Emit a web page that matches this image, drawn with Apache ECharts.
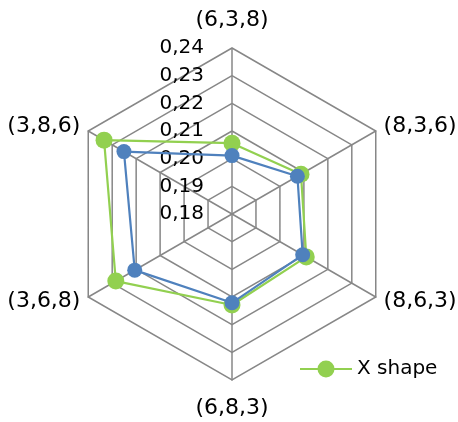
<!DOCTYPE html>
<html>
<head>
<meta charset="utf-8">
<script src="https://cdn.jsdelivr.net/npm/echarts@6/dist/echarts.min.js"></script>
<style>
html, body { margin: 0; padding: 0; background: #fff; }
#chart { width: 458px; height: 422px; }
</style>
</head>
<body>
<div id="chart"></div>
<script>
// Categories in the reference's clockwise order, starting at the top
const categories = ['(6,3,8)', '(8,3,6)', '(8,6,3)', '(6,8,3)', '(3,6,8)', '(3,8,6)'];
const xShapeValues = [0.2056, 0.2088, 0.2110, 0.2129, 0.2285, 0.2334];
const secondValues = [0.2011, 0.2073, 0.2095, 0.2121, 0.2206, 0.2251];
const tickValues = [0.18, 0.19, 0.20, 0.21, 0.22, 0.23, 0.24];
const tickLabels = ['0,18', '0,19', '0,20', '0,21', '0,22', '0,23', '0,24'];
const seriesNames = ['X shape', 'Series 2'];

// ECharts radar runs counter-clockwise; reorder to get a clockwise layout
const order = [0, 5, 4, 3, 2, 1];
const pick = arr => order.map(i => arr[i]);

const FONT = 'DejaVu Sans';
const GRID = '#878787';

function fmt(v) {
  let best = 0;
  for (let i = 1; i < tickValues.length; i++) {
    if (Math.abs(tickValues[i] - v) < Math.abs(tickValues[best] - v)) best = i;
  }
  return tickLabels[best];
}

const indicators = pick(categories).map((name, k) => {
  const ind = { name: name, min: tickValues[0], max: tickValues[tickValues.length - 1] };
  if (k === 0) {
    ind.axisLabel = {
      show: true, formatter: fmt, color: '#000', fontSize: 20,
      fontFamily: FONT, margin: 28
    };
  }
  return ind;
});

const chart = echarts.init(document.getElementById('chart'), null, { renderer: 'canvas' });
chart.setOption({
  animation: false,
  backgroundColor: '#fff',
  textStyle: { fontFamily: FONT },
  legend: {
    left: 300, top: 359, padding: 0,
    itemWidth: 52, itemHeight: 17, itemGap: 10,
    textStyle: { fontSize: 20, color: '#000', fontFamily: FONT },
    data: [{
      name: seriesNames[0],
      icon: 'path://M0,7.5H52V9.5H0Z M17.5,8.5A8.5,8.5 0 1,1 34.5,8.5A8.5,8.5 0 1,1 17.5,8.5Z'
    }]
  },
  radar: {
    center: [232, 214],
    radius: 166,
    startAngle: 90,
    shape: 'polygon',
    splitNumber: tickValues.length - 1,
    axisNameGap: 9,
    axisName: { color: '#000', fontSize: 22, fontFamily: FONT, padding: [8, 0, 8, 0] },
    splitLine: { lineStyle: { color: GRID, width: 1.5 } },
    splitArea: { show: false },
    axisLine: { lineStyle: { color: GRID, width: 1.5 } },
    axisTick: { show: false },
    axisLabel: { show: false },
    indicator: indicators
  },
  series: [
    {
      type: 'radar',
      symbol: 'circle',
      symbolSize: 17,
      z: 2,
      lineStyle: { color: '#92D050', width: 2.2 },
      itemStyle: { color: '#92D050' },
      data: [{ name: seriesNames[0], value: pick(xShapeValues) }]
    },
    {
      type: 'radar',
      symbol: 'circle',
      symbolSize: 15,
      z: 3,
      lineStyle: { color: '#4F81BD', width: 2.2 },
      itemStyle: { color: '#4F81BD' },
      data: [{ name: seriesNames[1], value: pick(secondValues) }]
    }
  ]
});
</script>
</body>
</html>
